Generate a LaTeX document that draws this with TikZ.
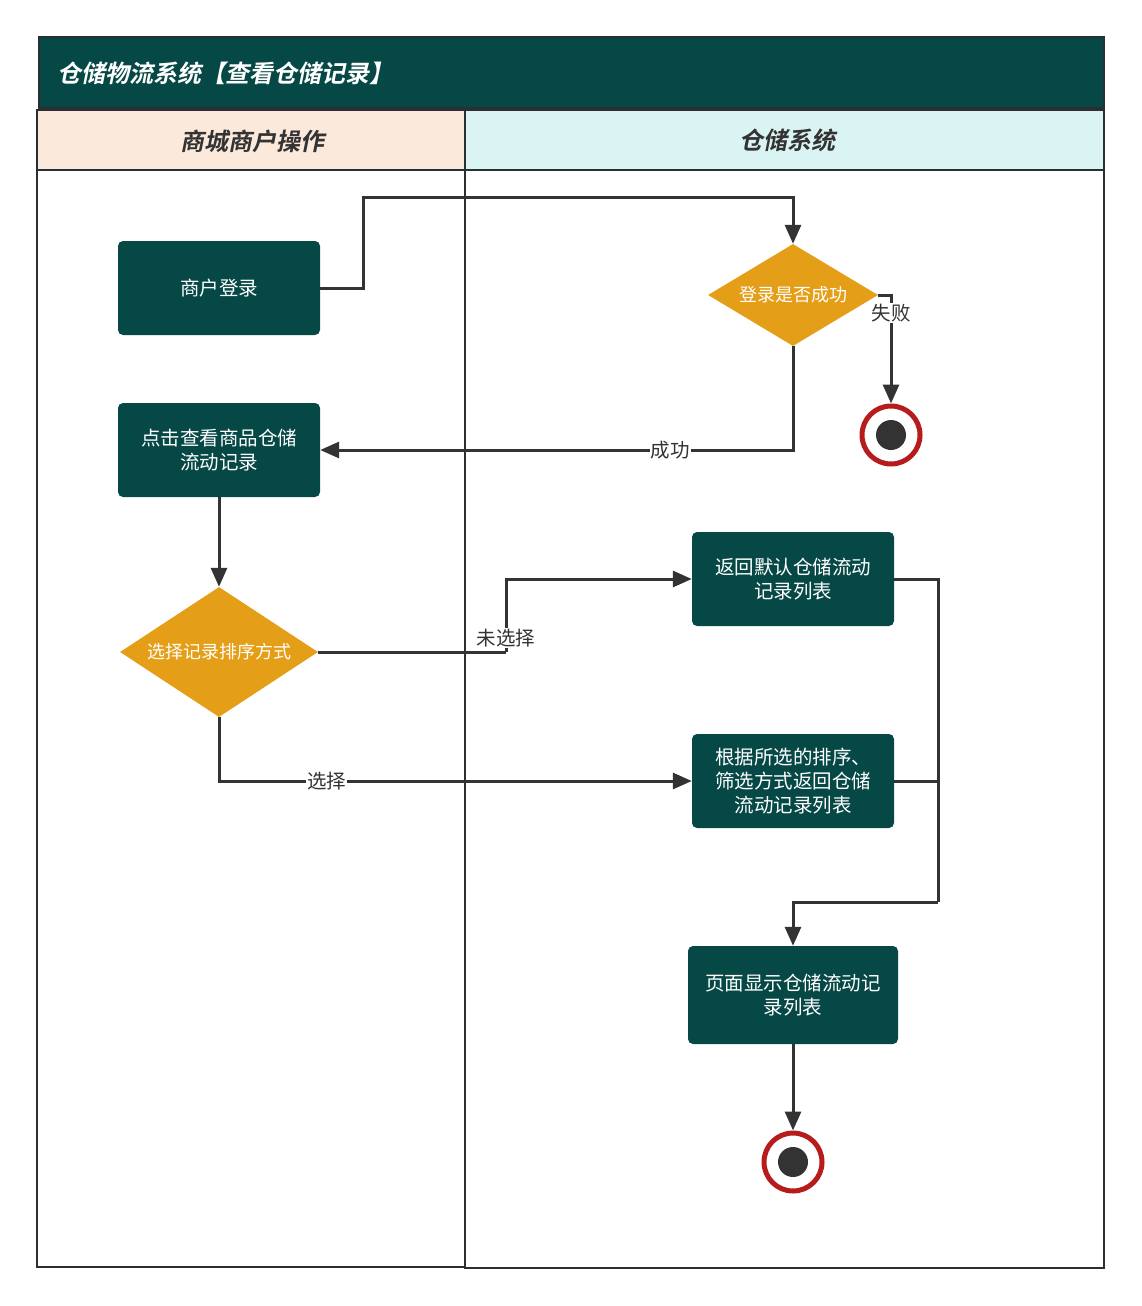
\documentclass[tikz,border=0pt]{standalone}
\usepackage{fontspec}
\usetikzlibrary{shapes.geometric,arrows.meta}
\newfontfamily\cjk{Noto Sans CJK SC}
\newfontfamily\cjkbi[FakeSlant=0.2]{Noto Sans CJK SC Bold}
\definecolor{teal}{HTML}{064846}
\definecolor{amber}{HTML}{E59E17}
\definecolor{peach}{HTML}{FBE9DC}
\definecolor{ice}{HTML}{DAF3F3}
\definecolor{ring}{HTML}{B71C1C}
\definecolor{ink}{HTML}{333333}
\definecolor{frame}{HTML}{2A2F33}
\begin{document}
\begin{tikzpicture}[x=1pt,y=-1pt,
  proc/.style={draw=none,fill=teal,rounded corners=5pt,minimum width=202pt,minimum height=94pt,
    text=white,align=center,font=\cjk\fontsize{19.5}{24}\selectfont,inner sep=2pt},
  dec/.style={diamond,draw=none,fill=amber,text=white,font=\cjk\fontsize{18}{22}\selectfont,inner sep=0pt},
  flow/.style={draw=ink,line width=3pt,-{Triangle[length=19pt,width=16pt]}},
  seg/.style={draw=ink,line width=3pt},
  lbl/.style={fill=white,inner sep=1pt,text=ink,font=\cjk\fontsize{19.5}{22}\selectfont},
  hdr/.style={text=ink,font=\cjkbi\fontsize{24}{28}\selectfont},
  lane/.style={draw=frame,line width=2.6pt}]
\useasboundingbox (0,0) rectangle (1141,1306);
% title bar
\filldraw[fill=teal,draw=frame,line width=2.6pt] (39,37) rectangle (1104,108);
\node[anchor=west,text=white,font=\cjkbi\fontsize{24}{28}\selectfont] (title) at (54,73) {仓储物流系统【查看仓储记录】};
% lane headers
\filldraw[fill=peach,lane] (37,110) rectangle (465,170);
\filldraw[fill=ice,lane] (465,110) rectangle (1104,170);
\node[hdr] (h1) at (252,141) {商城商户操作};
\node[hdr] (h2) at (787,140) {仓储系统};
% lane bodies
\draw[lane] (37,170) rectangle (465,1267);
\draw[lane] (465,170) rectangle (1104,1268);
% nodes
\node[proc] (login) at (219,288) {商户登录};
\node[proc] (view) at (219,450) {点击查看商品仓储\\流动记录};
\node[dec,shape aspect=1.523,minimum width=198pt,minimum height=130pt] (sort) at (219,652) {选择记录排序方式};
\node[dec,shape aspect=1.667,minimum width=170pt,minimum height=102pt] (ok) at (793,295) {登录是否成功};
\node[circle,draw=ring,line width=5pt,fill=white,minimum size=58pt,inner sep=0pt] (end1) at (891,435) {};
\fill[ink] (end1.center) circle (15pt);
\node[proc] (def) at (793,579) {返回默认仓储流动\\记录列表};
\node[proc] (sel) at (793,781) {根据所选的排序、\\筛选方式返回仓储\\流动记录列表};
\node[proc,minimum width=210pt,minimum height=98pt] (show) at (793,995) {页面显示仓储流动记\\录列表};
\node[circle,draw=ring,line width=5pt,fill=white,minimum size=58pt,inner sep=0pt] (end2) at (793,1162) {};
\fill[ink] (end2.center) circle (15pt);
% connectors
\draw[flow] (login.east) -- (363,288) -- (363,197) -- (793,197) -- (ok.north);
\draw[flow] (ok.east) -- (891,295) -- node[lbl,pos=0.17] (lfail) {失败} (end1.north);
\draw[flow] (ok.south) -- (793,450) -- node[lbl,pos=0.26] (lsucc) {成功} (view.east);
\draw[flow] (view.south) -- (sort.north);
\draw[seg] (sort.east) -- (506,652);
\draw[flow] (506,652) -- (506,579) -- (def.west);
\node[lbl] (lnot) at (506,638) {未选择};
\draw[flow] (sort.south) -- (219,781) -- node[lbl,pos=0.228] (lsel) {选择} (sel.west);
\draw[seg] (def.east) -- (938,579) -- (938,902);
\draw[seg] (sel.east) -- (938,781);
\draw[flow] (938,902) -- (793,902) -- (show.north);
\draw[flow] (show.south) -- (end2.north);
\end{tikzpicture}
\end{document}
